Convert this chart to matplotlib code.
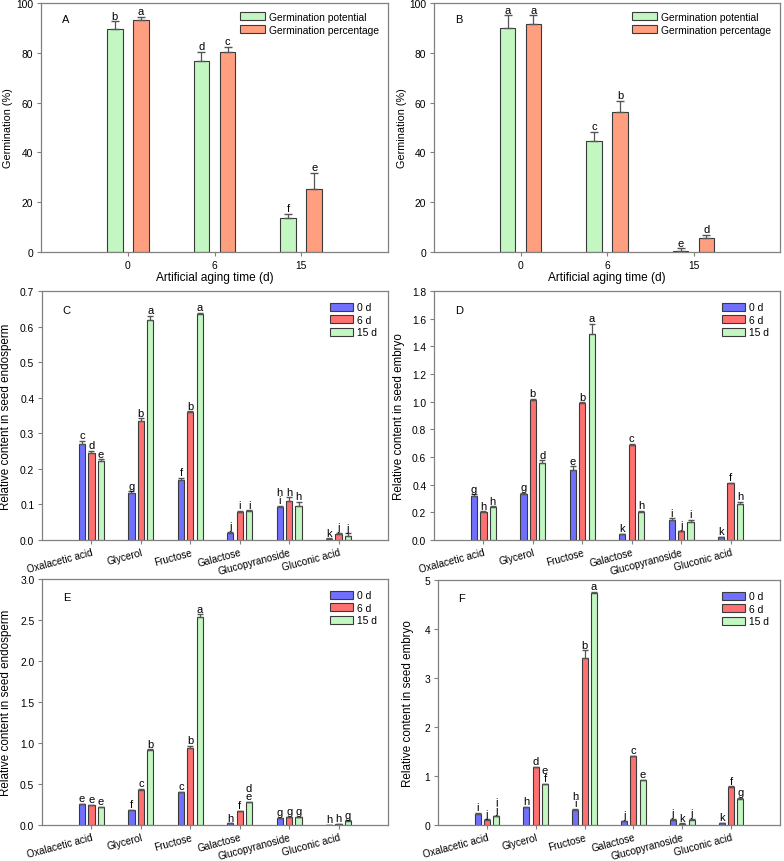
import numpy as np
import matplotlib.pyplot as plt

plt.rcParams['font.family'] = ['Liberation Sans', 'DejaVu Sans']

# ---- Germination data (panels A, B) ----
aging_days = ['0', '6', '15']
gp_A = [89.4, 76.8, 13.8]
gp_A_err = [3.2, 3.6, 1.6]
gpct_A = [93.3, 80.3, 25.5]
gpct_A_err = [1.0, 2.1, 6.3]
gp_A_let = ['b', 'd', 'f']
gpct_A_let = ['a', 'c', 'e']

gp_B = [89.8, 44.4, 0.4]
gp_B_err = [5.2, 3.9, 1.1]
gpct_B = [91.4, 56.4, 5.5]
gpct_B_err = [3.6, 4.4, 1.3]
gp_B_let = ['a', 'c', 'e']
gpct_B_let = ['a', 'b', 'd']

# ---- Metabolite data (panels C-F) ----
compounds = ['Oxalacetic acid', 'Glycerol', 'Fructose', 'Galactose',
             'Glucopyranoside', 'Gluconic acid']
days = ['0 d', '6 d', '15 d']

C_vals = [[0.270, 0.133, 0.168, 0.021, 0.094, 0.004],
          [0.244, 0.334, 0.360, 0.080, 0.109, 0.016],
          [0.222, 0.618, 0.634, 0.082, 0.096, 0.011]]
C_err = [[0.009, 0.004, 0.006, 0.001, 0.002, 0.001],
         [0.007, 0.008, 0.002, 0.001, 0.011, 0.005],
         [0.005, 0.012, 0.004, 0.001, 0.012, 0.008]]
C_let = [['c', 'g', 'f', 'j', 'h\ni', 'k'],
         ['d', 'b', 'b', 'i', 'h', 'j'],
         ['e', 'a', 'a', 'i', 'h', 'j']]

D_vals = [[0.318, 0.333, 0.504, 0.041, 0.145, 0.019],
          [0.205, 1.012, 0.990, 0.689, 0.063, 0.410],
          [0.236, 0.559, 1.487, 0.202, 0.130, 0.260]]
D_err = [[0.012, 0.009, 0.029, 0.002, 0.012, 0.002],
         [0.002, 0.010, 0.005, 0.005, 0.003, 0.003],
         [0.007, 0.017, 0.074, 0.010, 0.017, 0.017]]
D_let = [['g', 'g', 'e', 'k', 'i', 'k'],
         ['h', 'b', 'b', 'c', 'j', 'f'],
         ['h', 'd', 'a', 'h', 'i', 'h']]

E_vals = [[0.257, 0.181, 0.402, 0.020, 0.080, 0.004],
          [0.241, 0.430, 0.944, 0.165, 0.096, 0.016],
          [0.221, 0.920, 2.534, 0.281, 0.096, 0.052]]
E_err = [[0.004, 0.008, 0.004, 0.002, 0.004, 0.001],
         [0.004, 0.008, 0.020, 0.004, 0.004, 0.002],
         [0.004, 0.004, 0.036, 0.004, 0.004, 0.004]]
E_let = [['e', 'f', 'c', 'h', 'g', 'h'],
         ['e', 'c', 'b', 'f', 'g', 'h'],
         ['e', 'b', 'a', 'd\ne', 'g', 'g']]

F_vals = [[0.228, 0.369, 0.309, 0.074, 0.107, 0.034],
          [0.107, 1.174, 3.409, 1.409, 0.027, 0.779],
          [0.181, 0.839, 4.738, 0.913, 0.107, 0.537]]
F_err = [[0.014, 0.007, 0.014, 0.005, 0.014, 0.005],
         [0.007, 0.014, 0.155, 0.007, 0.005, 0.007],
         [0.007, 0.007, 0.014, 0.007, 0.014, 0.020]]
F_let = [['i', 'h', 'h\ni', 'j', 'j', 'k'],
         ['j', 'd', 'b', 'c', 'k', 'f'],
         ['i\nj', 'e\nf', 'a', 'e', 'j', 'g']]

GREEN = '#c2f7c2'
ORANGE = '#ff9f80'
day_colors = ['#7070ff', '#ff7070', GREEN]
EDGE = '#3a3a3a'
FRAME = '#808080'
FS = 7.4

W, H = 784, 862
fig = plt.figure(figsize=(W / 100, H / 100), dpi=100)


def make_ax(left, top, right, bottom):
    ax = fig.add_axes([left / W, 1 - bottom / H, (right - left) / W, (bottom - top) / H])
    for s in ax.spines.values():
        s.set_color(FRAME)
        s.set_linewidth(0.9)
    ax.tick_params(direction='out', length=3, width=0.8, color=FRAME,
                   labelsize=FS, pad=2.5)
    return ax


def label_bars(ax, x, tops, letters):
    for xi, t, l in zip(x, tops, letters):
        ax.annotate(l, (xi, t), xytext=(0, 0.5), textcoords='offset points',
                    ha='center', va='bottom', fontsize=8, linespacing=0.72)


def germ_panel(ax, gp, gp_err, gpct, gpct_err, gp_let, gpct_let, tag, ylx):
    x = np.arange(len(aging_days))
    w, off = 0.18, 0.15
    ax.bar(x - off, gp, w, color=GREEN, edgecolor=EDGE, linewidth=0.8,
           label='Germination potential')
    ax.bar(x + off, gpct, w, color=ORANGE, edgecolor=EDGE, linewidth=0.8,
           label='Germination percentage')
    ax.errorbar(x - off, gp, yerr=[np.zeros(3), gp_err], fmt='none',
                ecolor='#555555', elinewidth=0.9, capsize=3)
    ax.errorbar(x + off, gpct, yerr=[np.zeros(3), gpct_err], fmt='none',
                ecolor='#555555', elinewidth=0.9, capsize=3)
    label_bars(ax, x - off, np.add(gp, gp_err), gp_let)
    label_bars(ax, x + off, np.add(gpct, gpct_err), gpct_let)
    ax.set_xlim(-1, 3)
    ax.set_ylim(0, 100)
    ax.set_xticks(x)
    ax.set_xticklabels(aging_days)
    ax.set_yticks(range(0, 101, 20))
    ax.set_xlabel('Artificial aging time (d)', fontsize=8.6, labelpad=1)
    ax.set_ylabel('Germination (%)', fontsize=7.8)
    ax.yaxis.set_label_coords(ylx, 0.5)
    ax.text(0.06, 0.935, tag, transform=ax.transAxes, fontsize=8, va='center')
    ax.legend(loc='upper right', frameon=False, fontsize=FS, handlelength=2.4,
              handleheight=0.85, borderaxespad=0.45, labelspacing=0.3,
              handletextpad=0.4)


def metab_panel(ax, vals, errs, lets, ylim, yticks, fmt, ylabel, tag, ylx):
    x = np.arange(len(compounds))
    w, off = 0.125, 0.19
    for i in range(3):
        xi = x + (i - 1) * off
        ax.bar(xi, vals[i], w, color=day_colors[i], edgecolor=EDGE, linewidth=0.8,
               label=days[i])
        ax.errorbar(xi, vals[i], yerr=[np.zeros(len(x)), errs[i]], fmt='none',
                    ecolor='#555555', elinewidth=0.9, capsize=2.3)
        label_bars(ax, xi, np.add(vals[i], errs[i]), lets[i])
    ax.set_xlim(-1, 6)
    ax.set_ylim(*ylim)
    ax.set_yticks(yticks)
    ax.set_yticklabels([fmt.format(t) for t in yticks])
    ax.set_xticks(x)
    ax.set_xticklabels(compounds, rotation=15, ha='right', rotation_mode='anchor',
                       fontsize=7.2)
    ax.tick_params(axis='x', pad=2)
    ax.set_ylabel(ylabel, fontsize=8.4)
    ax.yaxis.set_label_coords(ylx, 0.5)
    ax.text(0.06, 0.925, tag, transform=ax.transAxes, fontsize=8, va='center')
    ax.legend(loc='upper right', frameon=False, fontsize=FS, handlelength=2.2,
              handleheight=0.8, borderaxespad=0.7, labelspacing=0.25,
              handletextpad=0.4)


axA = make_ax(41, 4, 388, 253)
germ_panel(axA, gp_A, gp_A_err, gpct_A, gpct_A_err, gp_A_let, gpct_A_let, 'A', -0.081)
axB = make_ax(434, 4, 780, 253)
germ_panel(axB, gp_B, gp_B_err, gpct_B, gpct_B_err, gp_B_let, gpct_B_let, 'B', -0.078)

axC = make_ax(42, 292, 388, 541)
metab_panel(axC, C_vals, C_err, C_let, (0, 0.7), np.arange(0, 0.71, 0.1), '{:.1f}',
            'Relative content in seed endosperm', 'C', -0.087)
axD = make_ax(434, 292, 780, 541)
metab_panel(axD, D_vals, D_err, D_let, (0, 1.8), np.arange(0, 1.81, 0.2), '{:.1f}',
            'Relative content in seed embryo', 'D', -0.084)
axE = make_ax(42, 580, 388, 826)
metab_panel(axE, E_vals, E_err, E_let, (0, 3.0), np.arange(0, 3.01, 0.5), '{:.1f}',
            'Relative content in seed endosperm', 'E', -0.087)
axF = make_ax(438, 581, 780, 826)
metab_panel(axF, F_vals, F_err, F_let, (0, 5), np.arange(0, 6, 1), '{:.0f}',
            'Relative content in seed embryo', 'F', -0.070)

fig.savefig('out.png', dpi=100)
